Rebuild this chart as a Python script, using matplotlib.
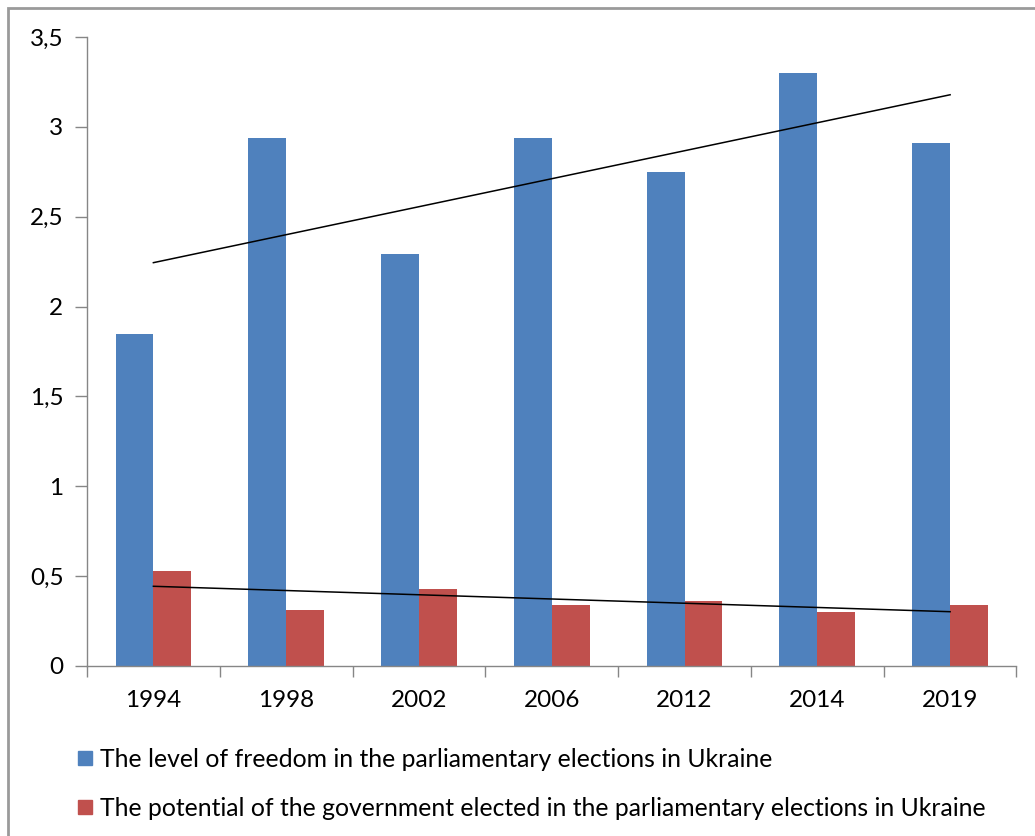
import numpy as np
import matplotlib.pyplot as plt
from matplotlib.patches import Rectangle
from matplotlib.lines import Line2D

years = ['1994', '1998', '2002', '2006', '2012', '2014', '2019']
freedom = [1.85, 2.94, 2.29, 2.94, 2.75, 3.30, 2.91]
potential = [0.53, 0.31, 0.43, 0.34, 0.36, 0.30, 0.34]
labels = ['The level of freedom in the parliamentary elections in Ukraine',
          'The potential of the government elected in the parliamentary elections in Ukraine']

blue = '#4F81BD'
red = '#C0504D'
axis_col = '#868686'

plt.rcParams['font.family'] = ['Lato', 'DejaVu Sans']

W, H = 1035, 836
fig = plt.figure(figsize=(W / 100, H / 100), dpi=100)
ax = fig.add_axes([87 / W, (H - 666) / H, (1016.5 - 87) / W, (666 - 37) / H])

x = np.arange(len(years))
bw = 0.285
ax.bar(x - bw / 2, freedom, bw, color=blue, label=labels[0])
ax.bar(x + bw / 2, potential, bw, color=red, label=labels[1])

# linear trend lines
for vals in (freedom, potential):
    k, b = np.polyfit(x, vals, 1)
    ax.plot([x[0], x[-1]], [k * x[0] + b, k * x[-1] + b], color='black', lw=1.1)

ax.set_xlim(-0.5, len(years) - 0.5)
ax.set_ylim(0, 3.5)
ax.set_yticks(np.arange(0, 3.51, 0.5))
ax.set_yticklabels(['0', '0,5', '1', '1,5', '2', '2,5', '3', '3,5'])
ax.set_xticks(x)
ax.set_xticklabels(years)
ax.set_xticks(np.arange(-0.5, len(years), 1), minor=True)
ax.tick_params(axis='x', which='major', length=0, pad=17, labelsize=17.5)
ax.tick_params(axis='x', which='minor', length=8, color=axis_col, width=1)
ax.tick_params(axis='y', length=9, color=axis_col, width=1, pad=8, labelsize=17.5)
for s in ('top', 'right'):
    ax.spines[s].set_visible(False)
for s in ('left', 'bottom'):
    ax.spines[s].set_color(axis_col)
    ax.spines[s].set_linewidth(1)

handles = [Line2D([], [], ls='', marker='s', markersize=10.5, color=c) for c in (blue, red)]
fig.legend(handles, labels, loc='upper left', bbox_to_anchor=(60 / W, 1 - 738 / H),
           frameon=False, fontsize=17.8, handletextpad=0.0, labelspacing=1.05,
           handlelength=1.2, borderaxespad=0)

# outer chart border
fig.patches.append(Rectangle((8 / W, -0.1), 1.2, 1 - 8 / H + 0.1, transform=fig.transFigure,
                             fill=False, edgecolor='#9a9a9a', lw=2))

fig.savefig('out.png', dpi=100)
